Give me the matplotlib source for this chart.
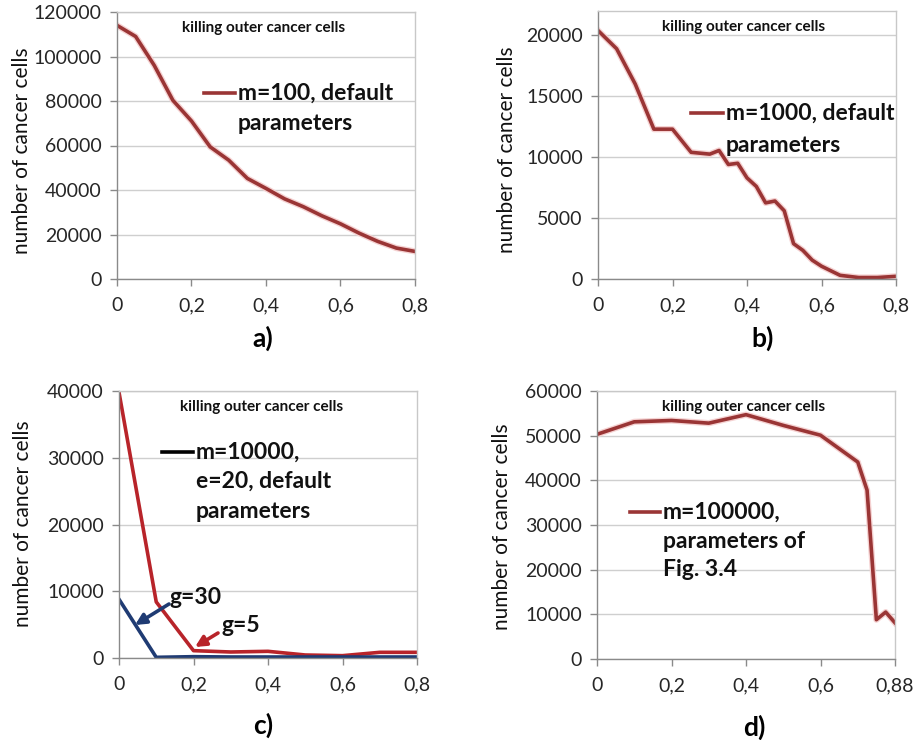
import matplotlib
matplotlib.use("Agg")
import matplotlib.pyplot as plt
import matplotlib.patheffects as pe
from matplotlib.lines import Line2D

plt.rcParams['font.family'] = ['Lato', 'DejaVu Sans']

# ---------------- data ----------------
# panel a) m=100
a_x = [0, 0.05, 0.1, 0.15, 0.2, 0.25, 0.3, 0.35, 0.4, 0.45, 0.5, 0.55, 0.6, 0.65, 0.7, 0.75, 0.8]
a_y = [114000, 109000, 96000, 80300, 71000, 59400, 53400, 45200, 40700, 36000, 32500, 28400, 24800, 20600, 16900, 13900, 12400]

# panel b) m=1000
b_x = [0, 0.05, 0.1, 0.15, 0.2, 0.25, 0.3, 0.325, 0.35, 0.375, 0.4, 0.425, 0.45, 0.475, 0.5,
       0.525, 0.55, 0.575, 0.6, 0.65, 0.7, 0.75, 0.8]
b_y = [20400, 18900, 16000, 12300, 12300, 10400, 10250, 10550, 9400, 9500, 8300, 7600, 6250, 6400, 5600,
       2900, 2350, 1550, 1050, 300, 120, 120, 220]

# panel c) m=10000, e=20
c_x = [0, 0.1, 0.2, 0.3, 0.4, 0.5, 0.6, 0.7, 0.8]
c_g5 = [39800, 8400, 1100, 900, 1000, 450, 350, 850, 850]
c_g30 = [8800, 100, 200, 150, 150, 150, 150, 150, 150]

# panel d) m=100000 (category positions, last tick labelled 0,88)
d_x = [0, 0.1, 0.2, 0.3, 0.4, 0.5, 0.6, 0.7, 0.725, 0.75, 0.775, 0.8]
d_y = [50300, 53100, 53400, 52800, 54700, 52300, 50100, 44100, 37800, 8800, 10500, 8100]

x_ticks = [0, 0.2, 0.4, 0.6, 0.8]
x_labels_abc = ["0", "0,2", "0,4", "0,6", "0,8"]
x_labels_d = ["0", "0,2", "0,4", "0,6", "0,88"]

title_txt = "killing outer cancer cells"
ylab = "number of cancer cells"

# ---------------- layout ----------------
W, H = 918, 740
fig = plt.figure(figsize=(W / 100, H / 100), dpi=100)


def axes_px(l, t, r, b):
    return fig.add_axes([l / W, 1 - b / H, (r - l) / W, (b - t) / H])


def fx(x):
    return x / W


def fy(y):
    return 1 - y / H


DARKRED = '#9a3535'
GLOW = [pe.Stroke(linewidth=4.5, foreground='#f5d2d2'), pe.Normal()]
TICKCOL = '#262626'
TXT = '#111111'


def style(ax, ymax, ystep, xlabels):
    ax.set_xlim(0, 0.8)
    ax.set_ylim(0, ymax)
    ax.set_xticks(x_ticks)
    ax.set_xticklabels(xlabels)
    yt = [v for v in range(0, int(ymax) + 1, ystep) if v <= ymax]
    ax.set_yticks(yt)
    ax.set_yticklabels([str(v) for v in yt])
    ax.grid(axis='y', color='#cfcfcf', linewidth=1)
    ax.set_axisbelow(True)
    for s in ['top', 'right']:
        ax.spines[s].set_color('#c8c8c8')
        ax.spines[s].set_linewidth(1)
    for s in ['left', 'bottom']:
        ax.spines[s].set_color('#8a8a8a')
        ax.spines[s].set_linewidth(1)
    ax.tick_params(axis='both', direction='out', colors='#8a8a8a', labelcolor=TICKCOL,
                   labelsize=14, length=5, width=1)
    ax.tick_params(axis='x', pad=8)
    ax.tick_params(axis='y', pad=6)


def legend_px(x0, x1, y, lines, color, spacing=30):
    fig.add_artist(Line2D([fx(x0), fx(x1)], [fy(y), fy(y)], color=color, linewidth=2.6))
    for i, t in enumerate(lines):
        fig.text(fx(x1 + 3), fy(y + i * spacing), t, fontsize=16.5, fontweight='bold',
                 color=TXT, va='center', ha='left')


def arrow_px(x0, y0, x1, y1, color):
    fig.add_artist(matplotlib.patches.FancyArrowPatch(
        (fx(x0), fy(y0)), (fx(x1), fy(y1)), transform=fig.transFigure,
        arrowstyle='-|>', mutation_scale=16, color=color, lw=2.6, shrinkA=0, shrinkB=0))


TITLE_FS = 11
YLAB_FS = 15
PANEL_FS = 19

# ---- a ----
ax = axes_px(117, 12, 415, 279)
ax.plot(a_x, a_y, color=DARKRED, linewidth=2.6, path_effects=GLOW)
style(ax, 120000, 20000, x_labels_abc)
fig.text(fx(264), fy(28), title_txt, fontsize=TITLE_FS, fontweight='bold', ha='center', va='center', color=TXT)
legend_px(204, 235, 93, ["m=100, default", "parameters"], DARKRED)
fig.text(fx(22), fy(151), ylab, rotation=90, fontsize=YLAB_FS, ha='center', va='center', color=TXT)
fig.text(fx(263), fy(338), "a)", fontsize=PANEL_FS, fontweight='bold', ha='center', va='center')

# ---- b ----
ax = axes_px(598, 11, 896, 279)
ax.plot(b_x, b_y, color=DARKRED, linewidth=2.6, path_effects=GLOW)
style(ax, 22000, 5000, x_labels_abc)
fig.text(fx(744), fy(27), title_txt, fontsize=TITLE_FS, fontweight='bold', ha='center', va='center', color=TXT)
legend_px(691, 723, 113, ["m=1000, default", "parameters"], DARKRED, spacing=33)
fig.text(fx(507), fy(150), ylab, rotation=90, fontsize=YLAB_FS, ha='center', va='center', color=TXT)
fig.text(fx(763), fy(338), "b)", fontsize=PANEL_FS, fontweight='bold', ha='center', va='center')

# ---- c ----
RED_C = '#b8242a'
BLUE_C = '#1f3b73'
ax = axes_px(119, 391, 417, 658)
ax.plot(c_x, c_g5, color=RED_C, linewidth=2.6)
ax.plot(c_x, c_g30, color=BLUE_C, linewidth=2.6)
style(ax, 40000, 10000, x_labels_abc)
fig.text(fx(262), fy(407), title_txt, fontsize=TITLE_FS, fontweight='bold', ha='center', va='center', color=TXT)
legend_px(162, 193, 452, ["m=10000,", "e=20, default", "parameters"], 'black', spacing=29.5)
fig.text(fx(196), fy(597), "g=30", fontsize=16.5, fontweight='bold', ha='center', va='center', color=TXT)
fig.text(fx(241), fy(625), "g=5", fontsize=16.5, fontweight='bold', ha='center', va='center', color=TXT)
arrow_px(169, 604, 135, 625, BLUE_C)
arrow_px(218, 633, 195, 647, RED_C)
fig.text(fx(23), fy(524), ylab, rotation=90, fontsize=YLAB_FS, ha='center', va='center', color=TXT)
fig.text(fx(263), fy(725), "c)", fontsize=PANEL_FS, fontweight='bold', ha='center', va='center')

# ---- d ----
ax = axes_px(597, 391, 895, 659)
ax.plot(d_x, d_y, color=DARKRED, linewidth=2.6, path_effects=GLOW)
style(ax, 60000, 10000, x_labels_d)
fig.text(fx(744), fy(407), title_txt, fontsize=TITLE_FS, fontweight='bold', ha='center', va='center', color=TXT)
legend_px(630, 660, 512, ["m=100000,", "parameters of", "Fig. 3.4"], DARKRED, spacing=29)
fig.text(fx(502), fy(527), ylab, rotation=90, fontsize=YLAB_FS, ha='center', va='center', color=TXT)
fig.text(fx(754), fy(727), "d)", fontsize=PANEL_FS, fontweight='bold', ha='center', va='center')

fig.savefig("out.png", dpi=100)
